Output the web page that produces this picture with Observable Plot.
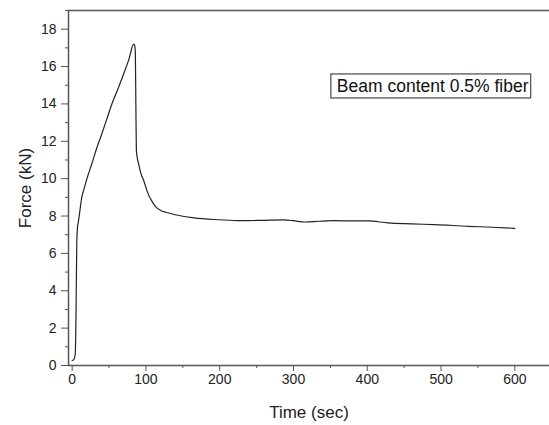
<!DOCTYPE html>
<html>
<head>
<meta charset="utf-8">
<script src="https://cdn.jsdelivr.net/npm/d3@7"></script>
<script src="https://cdn.jsdelivr.net/npm/@observablehq/plot@0.6"></script>
<style>
  html, body { margin: 0; padding: 0; background: #fff; }
  svg { display: block; }
</style>
</head>
<body>
<div id="chart"></div>
<script>
// Time (sec)
const time = [0, 2, 3.5, 4.2, 4.6, 5.0, 5.5, 6.3, 7.2, 8.6, 10.5, 13, 15.4, 20, 26.6, 33, 40.2, 47, 53.8, 62, 69.7, 77, 83.3, 84.5, 85.6, 86.3, 87, 88.3, 90, 93, 96.9, 102.8, 108, 113, 120, 127, 140, 165, 200, 229, 260, 287, 300, 315, 335, 355, 380, 401, 428, 460, 491, 537, 570, 600];
// Force (kN)
const force = [0.27, 0.32, 0.45, 0.64, 1.2, 2.2, 4, 6.7, 7.4, 7.75, 8.3, 9.0, 9.36, 10.0, 10.8, 11.6, 12.4, 13.2, 14.0, 14.8, 15.6, 16.4, 17.2, 17.15, 16.8, 14, 11.5, 11.1, 10.8, 10.3, 9.9, 9.2, 8.8, 8.5, 8.3, 8.2, 8.07, 7.9, 7.8, 7.75, 7.77, 7.79, 7.75, 7.68, 7.72, 7.75, 7.74, 7.74, 7.63, 7.58, 7.54, 7.45, 7.4, 7.34];
const xMajor = [0, 100, 200, 300, 400, 500, 600];
const xMinor = [50, 150, 250, 350, 450, 550, 650];
const yMajor = [0, 2, 4, 6, 8, 10, 12, 14, 16, 18];
const yMinor = [1, 3, 5, 7, 9, 11, 13, 15, 17, 19];
const legendLabel = "Beam content 0.5% fiber";

const data = time.map((t, i) => ({t, f: force[i]}));
const font = "'Liberation Sans', Arial, Helvetica, sans-serif";
const axisColor = "#555";

const plot = Plot.plot({
  width: 549,
  height: 425,
  marginLeft: 68,
  marginRight: 0,
  marginTop: 10,
  marginBottom: 60,
  style: {fontFamily: font, background: "#fff", color: "#222"},
  x: {domain: [-5, 647]},
  y: {domain: [0, 19]},
  marks: [
    Plot.axisX({ticks: xMinor, tickSize: 3, tickFormat: () => "", label: null, stroke: axisColor}),
    Plot.axisX({ticks: xMajor, tickSize: 6, tickPadding: 3, fontSize: 14, stroke: axisColor,
      label: "Time (sec)", labelAnchor: "center", labelArrow: "none", labelOffset: 52}),
    Plot.axisY({ticks: yMinor, tickSize: 3, tickFormat: () => "", label: null, stroke: axisColor}),
    Plot.axisY({ticks: yMajor, tickSize: 7, tickPadding: 5, fontSize: 14, stroke: axisColor,
      label: "Force (kN)", labelAnchor: "center", labelArrow: "none", labelOffset: 50}),
    Plot.ruleY([0], {stroke: axisColor, strokeWidth: 1.5}),
    Plot.ruleY([19], {stroke: axisColor, strokeWidth: 1.5}),
    Plot.ruleX([-5], {stroke: axisColor, strokeWidth: 1.5}),
    Plot.line(data, {x: "t", y: "f", stroke: "#222", strokeWidth: 1.2, curve: "monotone-x"}),
    Plot.text([legendLabel], {frameAnchor: "top-right", dx: -21, dy: 69, textAnchor: "end",
      fontSize: 17.5, fill: "#111"})
  ]
});

document.getElementById("chart").appendChild(plot);
d3.select(plot).selectAll("g[aria-label='x-axis label'] text, g[aria-label='y-axis label'] text").attr("font-size", 17);

// box around legend text
const lt = Array.from(plot.querySelectorAll("text")).find(t => t.textContent === legendLabel);
if (lt) {
  const bb = lt.getBBox();
  const rect = document.createElementNS("http://www.w3.org/2000/svg", "rect");
  rect.setAttribute("x", bb.x - 6);
  rect.setAttribute("y", bb.y + bb.height / 2 - 12);
  rect.setAttribute("width", bb.width + 8);
  rect.setAttribute("height", 24);
  rect.setAttribute("fill", "none");
  rect.setAttribute("stroke", "#555");
  rect.setAttribute("stroke-width", 1.3);
  const tr = lt.getAttribute("transform");
  if (tr) rect.setAttribute("transform", tr);
  lt.parentNode.insertBefore(rect, lt);
}
</script>
</body>
</html>
